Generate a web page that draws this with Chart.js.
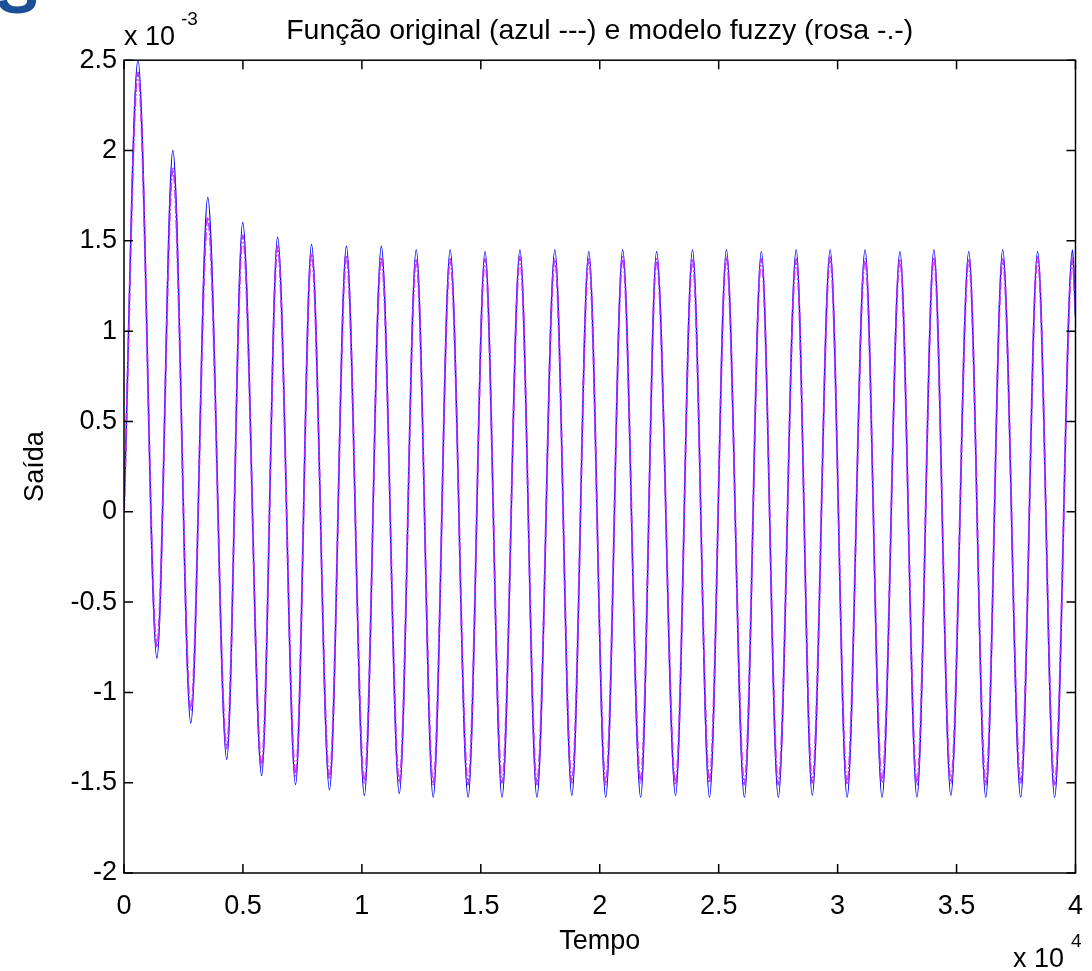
<!DOCTYPE html>
<html>
<head>
<meta charset="utf-8">
<title>Função original e modelo fuzzy</title>
<script src="https://cdn.jsdelivr.net/npm/chart.js@4.4.0/dist/chart.umd.min.js"></script>
<style>
  html, body { margin: 0; padding: 0; background: #fff; }
</style>
</head>
<body>
<canvas id="grafico" width="1092" height="971"></canvas>
<script>
// DADOS - tempo em amostras, saída em x 10^-3
const tPicos = [587, 2054, 3522, 4990, 6457, 7883, 9350, 10818, 12285, 13711, 15178, 16646, 18113, 19539,
    20964, 22390, 23899, 25325, 26793, 28260, 29686, 31153, 32621, 34047, 35514, 36940, 38407, 39875];
const picosAzul = [2.50, 2.00, 1.74, 1.60, 1.52, 1.48, 1.47, 1.47, 1.45, 1.45, 1.44, 1.45, 1.45, 1.44,
    1.45, 1.44, 1.45, 1.45, 1.44, 1.45, 1.45, 1.45, 1.44, 1.45, 1.44, 1.45, 1.44, 1.45];
const picosRosa = [2.43, 1.90, 1.63, 1.53, 1.47, 1.43, 1.42, 1.41, 1.40, 1.40, 1.40, 1.41, 1.40, 1.40,
    1.41, 1.40, 1.40, 1.41, 1.40, 1.40, 1.41, 1.40, 1.40, 1.41, 1.40, 1.40, 1.41, 1.40];

const tVales = [1384, 2809, 4319, 5786, 7212, 8638, 10105, 11573, 12998, 14466, 15891, 17359, 18827,
    20252, 21720, 23187, 24613, 26080, 27506, 28932, 30399, 31867, 33334, 34760, 36228, 37695, 39121];
const valesAzul = [-0.81, -1.17, -1.37, -1.46, -1.51, -1.54, -1.57, -1.56, -1.58, -1.58, -1.58, -1.58, -1.57,
    -1.58, -1.58, -1.57, -1.58, -1.58, -1.58, -1.57, -1.58, -1.58, -1.58, -1.57, -1.58, -1.58, -1.58];
const valesRosa = [-0.75, -1.10, -1.31, -1.41, -1.46, -1.48, -1.50, -1.50, -1.51, -1.51, -1.50, -1.51, -1.50,
    -1.51, -1.50, -1.51, -1.50, -1.51, -1.51, -1.50, -1.51, -1.50, -1.51, -1.50, -1.51, -1.50, -1.51];

const tFim = 40000;
const fimAzul = 1.08;
const fimRosa = 1.10;

const ticksX = [0, 5000, 10000, 15000, 20000, 25000, 30000, 35000, 40000];
const ticksY = [-2, -1.5, -1, -0.5, 0, 0.5, 1, 1.5, 2, 2.5];

const fonte = "'Liberation Sans', Arial, sans-serif";

// monta a serie alternando picos e vales
serie = (picos, vales, fim) => {
    let pts = [{x: 0, y: 0}];
    for (let i = 0; i < tPicos.length; i++) {
        pts.push({x: tPicos[i], y: picos[i]});
        if (i < tVales.length) pts.push({x: tVales[i], y: vales[i]});
    }
    pts.push({x: tFim, y: fim});
    return pts;
};

// caixa, ticks para dentro e textos extras (estilo matlab)
const estiloMatlab = {
    id: 'estiloMatlab',
    afterDraw(chart) {
        const ctx = chart.ctx;
        const a = chart.chartArea;
        const sx = chart.scales.x;
        const sy = chart.scales.y;
        const tam = 9;
        ctx.save();
        ctx.strokeStyle = '#000';
        ctx.lineWidth = 1.5;
        ctx.strokeRect(a.left, a.top, a.right - a.left, a.bottom - a.top);
        ctx.beginPath();
        ticksX.forEach(v => {
            let px = sx.getPixelForValue(v);
            ctx.moveTo(px, a.bottom); ctx.lineTo(px, a.bottom - tam);
            ctx.moveTo(px, a.top); ctx.lineTo(px, a.top + tam);
        });
        ticksY.forEach(v => {
            let py = sy.getPixelForValue(v);
            ctx.moveTo(a.left, py); ctx.lineTo(a.left + tam, py);
            ctx.moveTo(a.right, py); ctx.lineTo(a.right - tam, py);
        });
        ctx.stroke();

        ctx.fillStyle = '#000';
        ctx.textBaseline = 'alphabetic';
        ctx.textAlign = 'left';
        ctx.font = '27px ' + fonte;
        ctx.fillText('x 10', 124, 45);
        ctx.fillText('x 10', 1013, 967);
        ctx.font = '19px ' + fonte;
        ctx.fillText('-3', 181, 25);
        ctx.fillText('4', 1071, 947);

        // pedaço do titulo do slide
        ctx.fillStyle = '#1c4f96';
        ctx.font = 'bold 64px ' + fonte;
        ctx.fillText('S', -4, 13);
        ctx.restore();
    }
};

const ctxGrafico = document.getElementById('grafico').getContext('2d');
let grafico = new Chart(ctxGrafico, {
    type: 'line',
    data: {
        // o primeiro dataset fica por cima no chart.js
        datasets: [{
            label: 'modelo fuzzy (rosa)',
            data: serie(picosRosa, valesRosa, fimRosa),
            borderColor: 'rgba(190, 40, 255, 0.9)',
            borderWidth: 2,
            borderDash: [9, 2, 2, 2],
            pointRadius: 0,
            cubicInterpolationMode: 'monotone'
        }, {
            label: 'original (azul)',
            data: serie(picosAzul, valesAzul, fimAzul),
            borderColor: '#0000ff',
            borderWidth: 1.4,
            pointRadius: 0,
            cubicInterpolationMode: 'monotone'
        }]
    },
    options: {
        responsive: false,
        animation: false,
        devicePixelRatio: 1,
        layout: { padding: { left: 0, right: 14, top: 0, bottom: 0 } },
        plugins: {
            legend: { display: false },
            tooltip: { enabled: false },
            title: {
                display: true,
                fullSize: false,
                text: 'Função original (azul ---) e modelo fuzzy (rosa -.-)',
                color: '#000',
                font: { family: fonte, size: 28.5, weight: 'normal' },
                padding: { top: 14, bottom: 12 }
            }
        },
        scales: {
            x: {
                type: 'linear',
                min: 0,
                max: 40000,
                afterFit: s => { s.height = 98; },
                afterBuildTicks: s => { s.ticks = ticksX.map(v => ({value: v})); },
                grid: { display: false },
                border: { display: false },
                ticks: {
                    color: '#000',
                    padding: 9,
                    maxRotation: 0,
                    font: { family: fonte, size: 27 },
                    callback: v => String(v / 10000)
                },
                title: {
                    display: true,
                    text: 'Tempo',
                    color: '#000',
                    font: { family: fonte, size: 27 },
                    padding: { top: 0, bottom: 13 }
                }
            },
            y: {
                min: -2,
                max: 2.5,
                afterFit: s => { s.width = 124; },
                afterBuildTicks: s => { s.ticks = ticksY.map(v => ({value: v})); },
                grid: { display: false, drawTicks: false },
                border: { display: false },
                ticks: {
                    color: '#000',
                    padding: 7,
                    font: { family: fonte, size: 27 },
                    callback: v => String(v)
                },
                title: {
                    display: true,
                    text: 'Saída',
                    color: '#000',
                    font: { family: fonte, size: 27 },
                    padding: { top: 19, bottom: 0 }
                }
            }
        }
    },
    plugins: [estiloMatlab]
});
</script>
</body>
</html>
